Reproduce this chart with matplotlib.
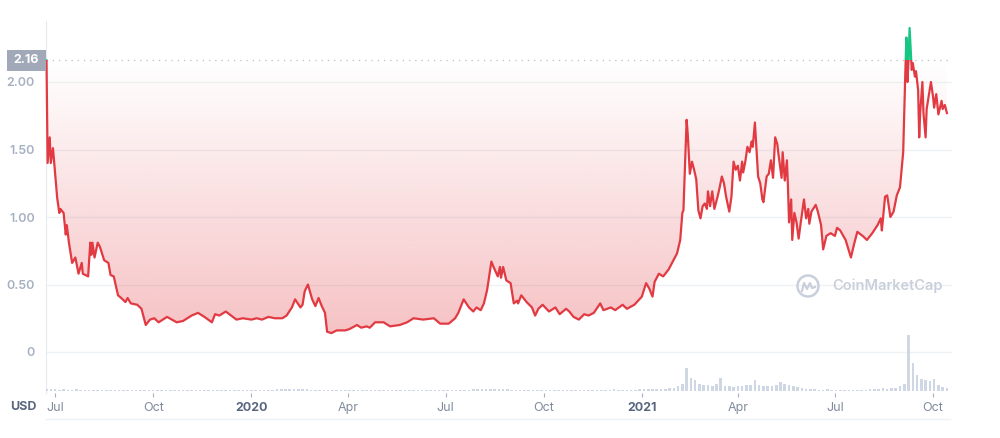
import numpy as np
import pandas as pd
import matplotlib
matplotlib.use('Agg')
import matplotlib.pyplot as plt
import matplotlib.dates as mdates
import matplotlib.transforms as mtransforms
from matplotlib.patches import Rectangle, Ellipse, PathPatch
from matplotlib.path import Path
from matplotlib.lines import Line2D
from matplotlib.colors import to_rgb

# price (USD)
dates_2019 = ['2019-06-23', '2019-06-24', '2019-06-26', '2019-06-27', '2019-06-29', '2019-06-30',
              '2019-07-03', '2019-07-05', '2019-07-06', '2019-07-09', '2019-07-11', '2019-07-12',
              '2019-07-14', '2019-07-17', '2019-07-20', '2019-07-23', '2019-07-26', '2019-07-27',
              '2019-08-01', '2019-08-03', '2019-08-04', '2019-08-05', '2019-08-07', '2019-08-10',
              '2019-08-12', '2019-08-16', '2019-08-20', '2019-08-22', '2019-08-25', '2019-08-29',
              '2019-09-01', '2019-09-05', '2019-09-07', '2019-09-10', '2019-09-16', '2019-09-20',
              '2019-09-24', '2019-09-28', '2019-10-02', '2019-10-06', '2019-10-14', '2019-10-23',
              '2019-10-29', '2019-11-06', '2019-11-12', '2019-11-18', '2019-11-25', '2019-11-28',
              '2019-12-02', '2019-12-08', '2019-12-13', '2019-12-18', '2019-12-24']
prices_2019 = [2.16, 1.40, 1.59, 1.40, 1.51, 1.42,
               1.14, 1.03, 1.06, 1.03, 0.87, 0.94,
               0.81, 0.66, 0.70, 0.58, 0.66, 0.58,
               0.56, 0.81, 0.72, 0.81, 0.70, 0.81,
               0.78, 0.68, 0.66, 0.57, 0.56, 0.42,
               0.40, 0.37, 0.40, 0.36, 0.35, 0.32,
               0.20, 0.24, 0.25, 0.22, 0.26, 0.22,
               0.23, 0.27, 0.29, 0.26, 0.22, 0.28,
               0.27, 0.30, 0.27, 0.24, 0.25]

dates_2020 = ['2020-01-01', '2020-01-06', '2020-01-11', '2020-01-17', '2020-01-23', '2020-01-30',
              '2020-02-03', '2020-02-08', '2020-02-11', '2020-02-16', '2020-02-18', '2020-02-20',
              '2020-02-23', '2020-02-27', '2020-03-01', '2020-03-04', '2020-03-07', '2020-03-10',
              '2020-03-12', '2020-03-16', '2020-03-21', '2020-03-29', '2020-04-02', '2020-04-09',
              '2020-04-13', '2020-04-18', '2020-04-21', '2020-04-26', '2020-05-04', '2020-05-10',
              '2020-05-19', '2020-05-26', '2020-06-01', '2020-06-10', '2020-06-20', '2020-06-26',
              '2020-07-04', '2020-07-10', '2020-07-13', '2020-07-18', '2020-07-23', '2020-07-27',
              '2020-07-30', '2020-08-03', '2020-08-06', '2020-08-09', '2020-08-13', '2020-08-15',
              '2020-08-19', '2020-08-21', '2020-08-22', '2020-08-24', '2020-08-27', '2020-08-31',
              '2020-09-03', '2020-09-06', '2020-09-07', '2020-09-10', '2020-09-15', '2020-09-20',
              '2020-09-23', '2020-09-26', '2020-09-30', '2020-10-06', '2020-10-12', '2020-10-16',
              '2020-10-22', '2020-10-25', '2020-10-29', '2020-11-03', '2020-11-08', '2020-11-12',
              '2020-11-17', '2020-11-23', '2020-11-26', '2020-12-03', '2020-12-07', '2020-12-14',
              '2020-12-18', '2020-12-25']
prices_2020 = [0.24, 0.25, 0.24, 0.26, 0.25, 0.25,
               0.27, 0.33, 0.39, 0.33, 0.35, 0.45,
               0.50, 0.39, 0.34, 0.40, 0.34, 0.29,
               0.15, 0.14, 0.16, 0.16, 0.17, 0.20,
               0.18, 0.19, 0.18, 0.22, 0.22, 0.19,
               0.20, 0.22, 0.25, 0.24, 0.25, 0.21,
               0.21, 0.25, 0.29, 0.39, 0.33, 0.30,
               0.33, 0.31, 0.36, 0.46, 0.67, 0.63,
               0.56, 0.63, 0.55, 0.63, 0.53, 0.51,
               0.36, 0.38, 0.36, 0.42, 0.37, 0.33,
               0.27, 0.32, 0.35, 0.30, 0.33, 0.28,
               0.32, 0.30, 0.26, 0.24, 0.28, 0.27,
               0.29, 0.36, 0.31, 0.33, 0.31, 0.35,
               0.32, 0.35]

dates_2021 = ['2021-01-01', '2021-01-05', '2021-01-08', '2021-01-11', '2021-01-13', '2021-01-17',
              '2021-01-21', '2021-01-26', '2021-01-30', '2021-02-03', '2021-02-06', '2021-02-08',
              '2021-02-09', '2021-02-12', '2021-02-13', '2021-02-15', '2021-02-17', '2021-02-19',
              '2021-02-21', '2021-02-23', '2021-02-25', '2021-02-27', '2021-03-01', '2021-03-03',
              '2021-03-04', '2021-03-06', '2021-03-08', '2021-03-10', '2021-03-13', '2021-03-15',
              '2021-03-17', '2021-03-19', '2021-03-21', '2021-03-24', '2021-03-26', '2021-03-28',
              '2021-03-30', '2021-04-01', '2021-04-03', '2021-04-05', '2021-04-06', '2021-04-08',
              '2021-04-10', '2021-04-12', '2021-04-14', '2021-04-15', '2021-04-17', '2021-04-18',
              '2021-04-20', '2021-04-22', '2021-04-24', '2021-04-25', '2021-04-28', '2021-04-30',
              '2021-05-02', '2021-05-04', '2021-05-06', '2021-05-08', '2021-05-09', '2021-05-12',
              '2021-05-13', '2021-05-15', '2021-05-17', '2021-05-18', '2021-05-19', '2021-05-21',
              '2021-05-22', '2021-05-24', '2021-05-26', '2021-05-28', '2021-05-30', '2021-06-02',
              '2021-06-04', '2021-06-06', '2021-06-07', '2021-06-09', '2021-06-13', '2021-06-15',
              '2021-06-18', '2021-06-20', '2021-06-23', '2021-06-27', '2021-07-01', '2021-07-03',
              '2021-07-06', '2021-07-11', '2021-07-16', '2021-07-19', '2021-07-22', '2021-07-27',
              '2021-07-31', '2021-08-05', '2021-08-10', '2021-08-13', '2021-08-14', '2021-08-17',
              '2021-08-19', '2021-08-22', '2021-08-25', '2021-08-28', '2021-08-31', '2021-09-03',
              '2021-09-05', '2021-09-06', '2021-09-07', '2021-09-08', '2021-09-09', '2021-09-11',
              '2021-09-12', '2021-09-14', '2021-09-15', '2021-09-17', '2021-09-18', '2021-09-19',
              '2021-09-21', '2021-09-22', '2021-09-24', '2021-09-25', '2021-09-28', '2021-09-29',
              '2021-10-01', '2021-10-02', '2021-10-04', '2021-10-06', '2021-10-09', '2021-10-10',
              '2021-10-12', '2021-10-14']
prices_2021 = [0.41, 0.51, 0.47, 0.41, 0.52, 0.58,
               0.56, 0.61, 0.67, 0.73, 0.83, 1.03,
               1.05, 1.72, 1.62, 1.32, 1.41, 1.35,
               1.28, 1.05, 0.99, 1.08, 1.10, 1.06,
               1.19, 1.08, 1.19, 1.06, 1.15, 1.22,
               1.30, 1.25, 1.15, 1.04, 1.15, 1.41,
               1.35, 1.38, 1.27, 1.41, 1.33, 1.41,
               1.52, 1.48, 1.56, 1.52, 1.70, 1.57,
               1.30, 1.25, 1.13, 1.11, 1.30, 1.32,
               1.42, 1.29, 1.59, 1.54, 1.47, 1.29,
               1.48, 1.27, 1.42, 1.22, 0.96, 1.13,
               0.83, 1.03, 0.96, 0.84, 0.96, 1.13,
               0.99, 1.06, 0.95, 1.04, 1.09, 1.04,
               0.94, 0.76, 0.86, 0.88, 0.86, 0.92,
               0.90, 0.83, 0.70, 0.80, 0.89, 0.86,
               0.83, 0.88, 0.94, 0.99, 0.90, 1.15,
               1.16, 1.00, 1.04, 1.16, 1.22, 1.48,
               2.07, 2.33, 2.00, 2.16, 2.40, 2.09,
               2.14, 2.04, 2.08, 1.94, 1.59, 1.78,
               2.00, 1.77, 1.59, 1.80, 1.95, 2.00,
               1.89, 1.81, 1.91, 1.76, 1.86, 1.80,
               1.83, 1.77]

# volume, relative units, one bar every 4 days from 2019-06-23
vol_start = '2019-06-23'
vol_2019 = [5, 4, 4, 3, 4, 3, 3, 4, 3, 3, 3, 3, 2, 3, 3, 3, 2, 3, 3, 2, 3, 3, 2, 3,
            3, 3, 2, 2, 3, 3, 3, 2, 3, 3, 3, 2, 3, 3, 2, 3, 3, 3, 3, 2, 3, 3, 3, 3]
vol_2020a = [3, 3, 3, 3, 3, 3, 4, 4, 4, 5, 4, 4, 5, 4, 3, 3, 3, 3, 3, 3, 3, 3, 3,
             3, 3, 3, 3, 3, 3, 3, 3, 3, 3, 3, 3, 3, 3, 3, 3, 3, 3, 3, 3, 3, 3, 3]
vol_2020b = [3, 3, 3, 3, 3, 3, 4, 4, 4, 5, 5, 4, 4, 4, 4, 3, 3, 3, 3, 3, 3, 3, 3,
             3, 3, 3, 3, 3, 3, 3, 3, 3, 3, 3, 3, 3, 3, 3, 3, 4, 3, 3, 3, 3, 3, 4]
vol_2021 = [4, 5, 5, 5, 4, 5, 6, 6,
            10, 14, 42, 24, 20, 14, 12, 11, 10, 13,
            24, 10, 9, 8, 10, 9, 11, 12, 20, 12,
            10, 9, 10, 11, 16, 13, 12, 9, 8, 6,
            5, 4, 4, 3, 3, 4, 3, 3, 3, 3,
            2, 3, 3, 3, 3, 4, 4, 5, 6, 5,
            6, 7, 9, 14, 100, 50, 30, 22, 20, 18,
            22, 12, 8, 7]

base_price = 2.16
y_ticks = [0, 0.5, 1.0, 1.5, 2.0]
y_labels = ['0', '0.50', '1.00', '1.50', '2.00']
x_tick_dates = ['2019-07-01', '2019-10-01', '2020-01-01', '2020-04-01', '2020-07-01',
                '2020-10-01', '2021-01-01', '2021-04-01', '2021-07-01', '2021-10-01']
x_labels = ['Jul', 'Oct', '2020', 'Apr', 'Jul', 'Oct', '2021', 'Apr', 'Jul', 'Oct']

RED = '#e23a42'
GREEN = '#16c784'
GRID = '#eff2f5'
LIGHT = '#a6b0c3'
DARK = '#58667e'
plt.rcParams['font.family'] = ['Inter', 'DejaVu Sans']

dates = pd.to_datetime(dates_2019 + dates_2020 + dates_2021)
prices = np.array(prices_2019 + prices_2020 + prices_2021)
assert len(dates) == len(prices)
xd = mdates.date2num(dates)

vols = np.array(vol_2019 + vol_2020a + vol_2020b + vol_2021)
vdates = mdates.date2num(pd.date_range(vol_start, periods=len(vols), freq='4D'))

W, H = 1000, 438
fig = plt.figure(figsize=(W / 100, H / 100), dpi=100)
ax = fig.add_axes([46 / W, 1 - 392.5 / H, 906 / W, 371.25 / H])
ax.set_ylim(-0.30, 2.45)
ax.set_xlim(mdates.date2num(pd.Timestamp('2019-06-22 12:00')),
            mdates.date2num(pd.Timestamp('2021-10-18 18:00')))

# gradient fill between the line and the opening price
verts = [(xd[0], base_price)] + list(zip(xd, np.minimum(prices, base_price))) + [(xd[-1], base_price)]
clip = PathPatch(Path(verts), transform=ax.transData, facecolor='none', edgecolor='none')
ax.add_patch(clip)
n = 256
grad = np.zeros((n, 1, 4))
grad[:, 0, :3] = to_rgb(RED)
grad[:, 0, 3] = np.linspace(0.33, 0.0, n)
img = ax.imshow(grad, extent=[xd[0], xd[-1], 0.0, base_price], origin='lower',
                aspect='auto', interpolation='bilinear', zorder=1)
img.set_clip_path(clip)
ax.fill_between(xd, prices, base_price, where=prices >= base_price, interpolate=True,
                color='#3fbf78', alpha=0.6, lw=0, zorder=1)

# line: red below the opening price, green above
lo = Rectangle((xd[0] - 50, -1), xd[-1] - xd[0] + 100, base_price + 1, transform=ax.transData)
hi = Rectangle((xd[0] - 50, base_price), xd[-1] - xd[0] + 100, 2, transform=ax.transData)
l1, = ax.plot(xd, prices, color=RED, lw=1.6, zorder=3, solid_joinstyle='round')
l1.set_clip_path(lo)
l2, = ax.plot(xd, prices, color=GREEN, lw=1.6, zorder=3, solid_joinstyle='round')
l2.set_clip_path(hi)

ax.axhline(base_price, color='#b8bfcc', lw=0.9, ls=(0, (1, 4)), zorder=2)

ax.set_yticks(y_ticks)
ax.set_yticklabels(y_labels)
ax.yaxis.grid(True, color=GRID, lw=1)
ax.set_axisbelow(True)
ax.tick_params(axis='y', length=0, pad=8, labelsize=9, labelcolor=LIGHT)
for t in ax.get_yticklabels():
    t.set_fontweight('semibold')

ax.set_xticks(mdates.date2num(pd.to_datetime(x_tick_dates)))
ax.set_xticklabels(x_labels)
ax.tick_params(axis='x', length=3, width=0.8, color=LIGHT, pad=4, labelsize=9)
for t in ax.get_xticklabels():
    if t.get_text().isdigit():
        t.set_fontweight('bold')
        t.set_color(DARK)
    else:
        t.set_color('#808a9d')

for s in ['top', 'right', 'bottom']:
    ax.spines[s].set_visible(False)
ax.spines['left'].set_color('#e6e9ee')
ax.patch.set_alpha(0)

# volume bars
ax2 = ax.twinx()
ax2.bar(vdates, vols, width=2.4, color='#cfd6e4', lw=0, zorder=1)
ax2.set_ylim(-1.77, 655.3)
ax2.set_yticks([])
for s in ax2.spines.values():
    s.set_visible(False)

# opening price tag
tr = mtransforms.blended_transform_factory(fig.transFigure, ax.transData)
ax.add_patch(Rectangle((7 / W, base_price - 0.078), 39 / W, 0.156, transform=tr,
                       facecolor='#a1a9b8', edgecolor='none', clip_on=False, zorder=5))
ax.text(26.5 / W, base_price, '2.16', transform=tr, ha='center', va='center',
        color='white', fontsize=9, fontweight='bold', zorder=6)

fig.text(37 / W, 1 - 407 / H, 'USD', ha='right', va='center', fontsize=9,
         fontweight='bold', color=DARK)
fig.add_artist(Line2D([46 / W, 950 / W], [1 - 419 / H] * 2, color=GRID, lw=1))

# watermark
wm = '#c9cfdb'
cx, cy = 808, 286
fig.add_artist(Ellipse((cx / W, 1 - cy / H), 21 / W, 21 / H, facecolor='none',
                       edgecolor=wm, lw=1.8))
wave = np.array([(-6, -5), (-4, 3), (-1, -3), (2, 3), (4, -2), (7, -1)])
fig.add_artist(Line2D((cx + wave[:, 0]) / W, 1 - (cy - wave[:, 1]) / H, color=wm, lw=1.6))
fig.text(832 / W, 1 - cy / H, 'CoinMarketCap', ha='left', va='center', fontsize=10.5,
         fontweight='semibold', color=wm)

fig.savefig('out.png', dpi=100)
